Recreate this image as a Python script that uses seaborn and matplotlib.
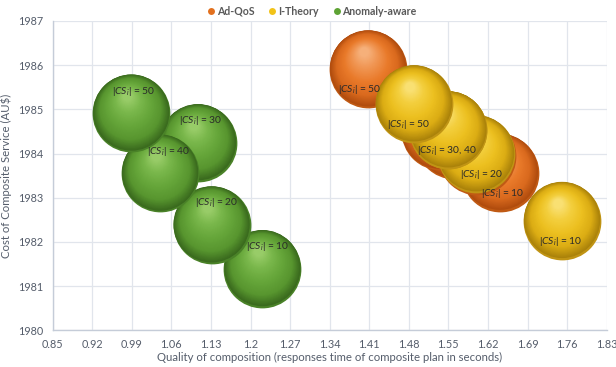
import numpy as np
import pandas as pd
import matplotlib
matplotlib.use("Agg")
import matplotlib.pyplot as plt
from matplotlib.colors import LinearSegmentedColormap
from matplotlib.lines import Line2D
import seaborn as sns

# ---- data -------------------------------------------------------------
methods = ["Ad-QoS", "I-Theory", "Anomaly-aware"]
set_sizes = [10, 20, 30, 40, 50]

adqos_time = [1.641, 1.600, 1.560, 1.535, 1.408]
adqos_cost = [1983.57, 1983.95, 1984.30, 1984.50, 1985.91]

itheory_time = [1.751, 1.599, 1.550, 1.550, 1.489]
itheory_cost = [1982.48, 1983.99, 1984.53, 1984.53, 1985.12]

anomaly_time = [1.221, 1.131, 1.107, 1.040, 0.989]
anomaly_cost = [1981.39, 1982.38, 1984.24, 1983.55, 1984.91]

# set sizes whose labels are printed, per method
labelled_sizes = {
    "Ad-QoS": [10, 50],
    "I-Theory": [10, 20, 30, 40, 50],
    "Anomaly-aware": [10, 20, 30, 40, 50],
}

x_ticks = [0.85, 0.92, 0.99, 1.06, 1.13, 1.20, 1.27, 1.34, 1.41, 1.48,
           1.55, 1.62, 1.69, 1.76, 1.83]
y_ticks = [1980, 1981, 1982, 1983, 1984, 1985, 1986, 1987]

x_title = "Quality of composition (responses time of composite plan in seconds)"
y_title = "Cost of Composite Service (AU$)"

df = pd.DataFrame({
    "method": np.repeat(methods, len(set_sizes)),
    "size": set_sizes * len(methods),
    "time": adqos_time + itheory_time + anomaly_time,
    "cost": adqos_cost + itheory_cost + anomaly_cost,
})

# ---- styling ----------------------------------------------------------
sns.set_theme(style="white")
plt.rcParams["font.family"] = ["Lato", "DejaVu Sans"]
plt.rcParams["mathtext.fontset"] = "custom"
plt.rcParams["mathtext.rm"] = "Lato"
plt.rcParams["mathtext.it"] = "Lato:italic"

# rim / dark / body / light / highlight tones of each sphere
shades = {
    "Ad-QoS": ["#c05a14", "#b04c0e", "#da6a1e", "#e97a2a", "#f09552", "#f6b07a"],
    "I-Theory": ["#c09414", "#aa820a", "#dcad14", "#ecc020", "#f3cf3e", "#f9e072"],
    "Anomaly-aware": ["#4a8228", "#3a6a1e", "#58962f", "#66a63a", "#7ab84c", "#98cc68"],
}
legend_colors = {"Ad-QoS": "#e2701e", "I-Theory": "#f2c318", "Anomaly-aware": "#5ea334"}
label_dy = {"Ad-QoS": -15, "I-Theory": -15, "Anomaly-aware": 16}
label_dx = {
    ("Ad-QoS", 50): -6, ("Ad-QoS", 10): 2,
    ("I-Theory", 50): -4, ("I-Theory", 30): -1, ("I-Theory", 20): 4,
    ("I-Theory", 10): -1,
    ("Anomaly-aware", 50): 2, ("Anomaly-aware", 30): 2,
    ("Anomaly-aware", 40): 6, ("Anomaly-aware", 20): 4,
    ("Anomaly-aware", 10): 4,
}

text_color = "#555d6b"
grid_color = "#e1e5ec"
axis_color = "#c5ccd8"

fig = plt.figure(figsize=(6.16, 3.67), dpi=100)
ax = fig.add_axes([0.0856, 0.100, 0.8993, 0.8428])

ax.set_xlim(x_ticks[0], x_ticks[-1])
ax.set_ylim(y_ticks[0], y_ticks[-1])
ax.set_xticks(x_ticks)
ax.set_xticklabels([f"{v:g}" for v in x_ticks])
ax.set_yticks(y_ticks)
ax.set_yticklabels([str(v) for v in y_ticks])
ax.grid(True, color=grid_color, linewidth=0.9)
ax.set_axisbelow(True)
for side in ["top", "right"]:
    ax.spines[side].set_visible(False)
for side in ["left", "bottom"]:
    ax.spines[side].set_color(axis_color)
    ax.spines[side].set_linewidth(1.0)
ax.tick_params(axis="both", length=0, labelsize=7.8, labelcolor=text_color)
ax.tick_params(axis="x", pad=6)
ax.tick_params(axis="y", pad=7)
ax.set_xlabel(x_title, fontsize=8.2, color=text_color, labelpad=2)
ax.set_ylabel(y_title, fontsize=8.2, color=text_color, labelpad=4)

# ---- shaded bubbles ---------------------------------------------------
bubble_d = 56.0            # bubble diameter in points
n_layers = 60
hl = np.array([-0.10, 0.44])  # highlight position, fraction of radius
px_per_pt = fig.dpi / 72.0

fig.canvas.draw()
to_disp = ax.transData
to_data = ax.transData.inverted()

for method in methods:
    tones = shades[method]
    cmap = LinearSegmentedColormap.from_list(
        method, list(zip([0.0, 0.22, 0.48, 0.76, 1.0], tones[1:])))
    sub = df[df["method"] == method]
    for _, row in sub.iterrows():
        # outer rim (reflected light at the base) through seaborn
        sns.scatterplot(x=[row["time"]], y=[row["cost"]], s=bubble_d ** 2,
                        color=tones[0], linewidth=0, ax=ax, legend=False)
        # concentric, shifted discs build the sphere gradient
        t = np.linspace(0.0, 1.0, n_layers)
        radius_pt = bubble_d / 2 * (0.98 - 0.86 * t)
        cx, cy = to_disp.transform((row["time"], row["cost"]))
        lift = np.array([0.0, 0.02]) * (1 - t)[:, None]
        shift = (np.outer(t, hl) + lift) * (bubble_d / 2) * px_per_pt
        pts = to_data.transform(np.column_stack([cx + shift[:, 0], cy + shift[:, 1]]))
        ax.scatter(pts[:, 0], pts[:, 1], s=(2 * radius_pt) ** 2,
                   c=cmap(t), linewidths=0)

# ---- labels -----------------------------------------------------------
for method in methods:
    sub = df[(df["method"] == method) & (df["size"].isin(labelled_sizes[method]))]
    groups = sub.groupby(["time", "cost"], sort=False)["size"].apply(list)
    for (tx, cy), sizes in groups.items():
        sizes = sorted(sizes)
        txt = r"$|CS_i|$ = " + ", ".join(str(s) for s in sizes)
        dx = label_dx.get((method, sizes[0]), 0)
        ax.annotate(txt, (tx, cy), xytext=(dx, label_dy[method]),
                    textcoords="offset points", ha="center", va="center",
                    fontsize=7.4, color="#2a2a2a", zorder=10)

# ---- legend -----------------------------------------------------------
handles = [Line2D([0], [0], marker="o", linestyle="", markersize=5,
                  markerfacecolor=legend_colors[m], markeredgewidth=0)
           for m in methods]
leg = fig.legend(handles, methods, loc="upper center", ncol=3,
                 bbox_to_anchor=(0.505, 1.01), frameon=False,
                 handletextpad=0.05, columnspacing=1.2, handlelength=1.0,
                 prop={"size": 7.6, "weight": "bold"})
for txt in leg.get_texts():
    txt.set_color("#595959")

fig.savefig("out.png", dpi=100)
